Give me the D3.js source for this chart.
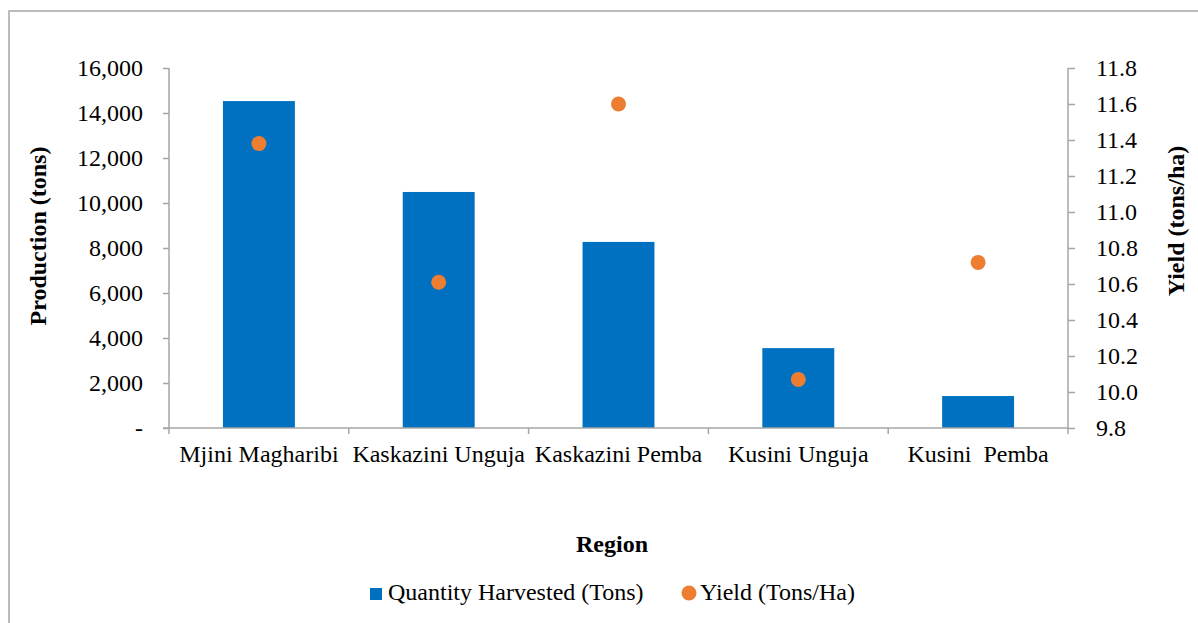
<!DOCTYPE html>
<html>
<head>
<meta charset="utf-8">
<script src="https://cdn.jsdelivr.net/npm/d3@7"></script>
<style>
  body { margin: 0; background: #fff; }
</style>
</head>
<body>
<div id="container"></div>
<script>
let w = 1198;
let h = 623;

// data
let regions = ["Mjini Magharibi", "Kaskazini Unguja", "Kaskazini Pemba", "Kusini Unguja", "Kusini  Pemba"];
let quantity = [14530, 10490, 8270, 3550, 1420];
let yieldVals = [11.38, 10.61, 11.60, 10.07, 10.72];
let leftTicks = [0, 2000, 4000, 6000, 8000, 10000, 12000, 14000, 16000];
let rightTicks = [9.8, 10.0, 10.2, 10.4, 10.6, 10.8, 11.0, 11.2, 11.4, 11.6, 11.8];

let plotL = 169, plotR = 1068, plotT = 68, plotB = 428;
let axisColor = "#a6a6a6";
let serif = "'Liberation Serif'";

let viz = d3.select("#container")
              .append("svg")
                .attr("width", w)
                .attr("height", h);

// outer frame
viz.append("rect")
    .attr("x", 9)
    .attr("y", 11)
    .attr("width", w)
    .attr("height", h)
    .attr("fill", "white")
    .attr("stroke", axisColor)
    .attr("stroke-width", 1.5);

let xCat = d3.scaleBand().domain(regions).range([plotL, plotR]).padding(0);
let xBar = d3.scaleBand().domain(regions).range([plotL, plotR]).paddingInner(0.6).paddingOuter(0.3);
let yLeft = d3.scaleLinear().domain([0, 16000]).range([plotB, plotT]);
let yRight = d3.scaleLinear().domain([9.8, 11.8]).range([plotB, plotT]);

//bars
viz.selectAll(".bar").data(regions).enter()
    .append("rect")
      .attr("class", "bar")
      .attr("x", d => xBar(d))
      .attr("width", xBar.bandwidth())
      .attr("y", (d, i) => yLeft(quantity[i]))
      .attr("height", (d, i) => plotB - yLeft(quantity[i]))
      .attr("fill", "#0070c0");

//left axis
let fmt = d3.format(",");
let gl = viz.append("g")
    .attr("transform", "translate(" + plotL + ",0)")
    .call(d3.axisLeft(yLeft).tickValues(leftTicks).tickSize(6).tickPadding(20)
            .tickFormat(d => d == 0 ? "-" : fmt(d)));

//right axis
let gr = viz.append("g")
    .attr("transform", "translate(" + plotR + ",0)")
    .call(d3.axisRight(yRight).tickValues(rightTicks).tickSize(7).tickPadding(21)
            .tickFormat(d3.format(".1f")));

//x axis
let gx = viz.append("g")
    .attr("transform", "translate(0," + plotB + ")")
    .call(d3.axisBottom(xCat).tickSize(0).tickPadding(17));

[gl, gr, gx].forEach(g => {
  g.select(".domain").attr("stroke", axisColor).attr("stroke-width", 1.5);
  g.selectAll(".tick line").attr("stroke", axisColor).attr("stroke-width", 1.5);
  g.selectAll(".tick text")
      .style("font-family", serif)
      .style("font-size", "24px")
      .style("white-space", "pre")
      .attr("fill", "#000");
});
gl.select(".domain").attr("d", "M0," + plotT + "V" + plotB);
gr.select(".domain").attr("d", "M0," + plotT + "V" + plotB);
gx.select(".domain").attr("d", "M" + (plotL - 6) + ",0H" + plotR);

//category boundary ticks
let bounds = regions.map(d => xCat(d)).concat([plotR]);
viz.selectAll(".btick").data(bounds).enter()
    .append("line")
      .attr("x1", d => d).attr("x2", d => d)
      .attr("y1", plotB).attr("y2", plotB + 6)
      .attr("stroke", axisColor)
      .attr("stroke-width", 1.5);

//yield dots
viz.selectAll(".dot").data(regions).enter()
    .append("circle")
      .attr("cx", d => xCat(d) + xCat.bandwidth() / 2)
      .attr("cy", (d, i) => yRight(yieldVals[i]))
      .attr("r", 7.5)
      .attr("fill", "#ed7d31");

//axis titles
viz.append("text")
    .text("Production (tons)")
    .attr("transform", "translate(46,236) rotate(-90)")
    .attr("text-anchor", "middle")
    .style("font-family", serif)
    .style("font-size", "24px")
    .style("font-weight", "bold");

viz.append("text")
    .text("Yield (tons/ha)")
    .attr("transform", "translate(1184,221) rotate(-90)")
    .attr("text-anchor", "middle")
    .style("font-family", serif)
    .style("font-size", "24px")
    .style("font-weight", "bold");

viz.append("text")
    .text("Region")
    .attr("x", 612)
    .attr("y", 552)
    .attr("text-anchor", "middle")
    .style("font-family", serif)
    .style("font-size", "24px")
    .style("font-weight", "bold");

//legend
viz.append("rect")
    .attr("x", 370).attr("y", 588)
    .attr("width", 12).attr("height", 12)
    .attr("fill", "#0070c0");
viz.append("text")
    .text("Quantity Harvested (Tons)")
    .attr("x", 388).attr("y", 600)
    .style("font-family", serif)
    .style("font-size", "24px");
viz.append("circle")
    .attr("cx", 689).attr("cy", 593)
    .attr("r", 7.5)
    .attr("fill", "#ed7d31");
viz.append("text")
    .text("Yield (Tons/Ha)")
    .attr("x", 700).attr("y", 600)
    .style("font-family", serif)
    .style("font-size", "24px");
</script>
</body>
</html>
